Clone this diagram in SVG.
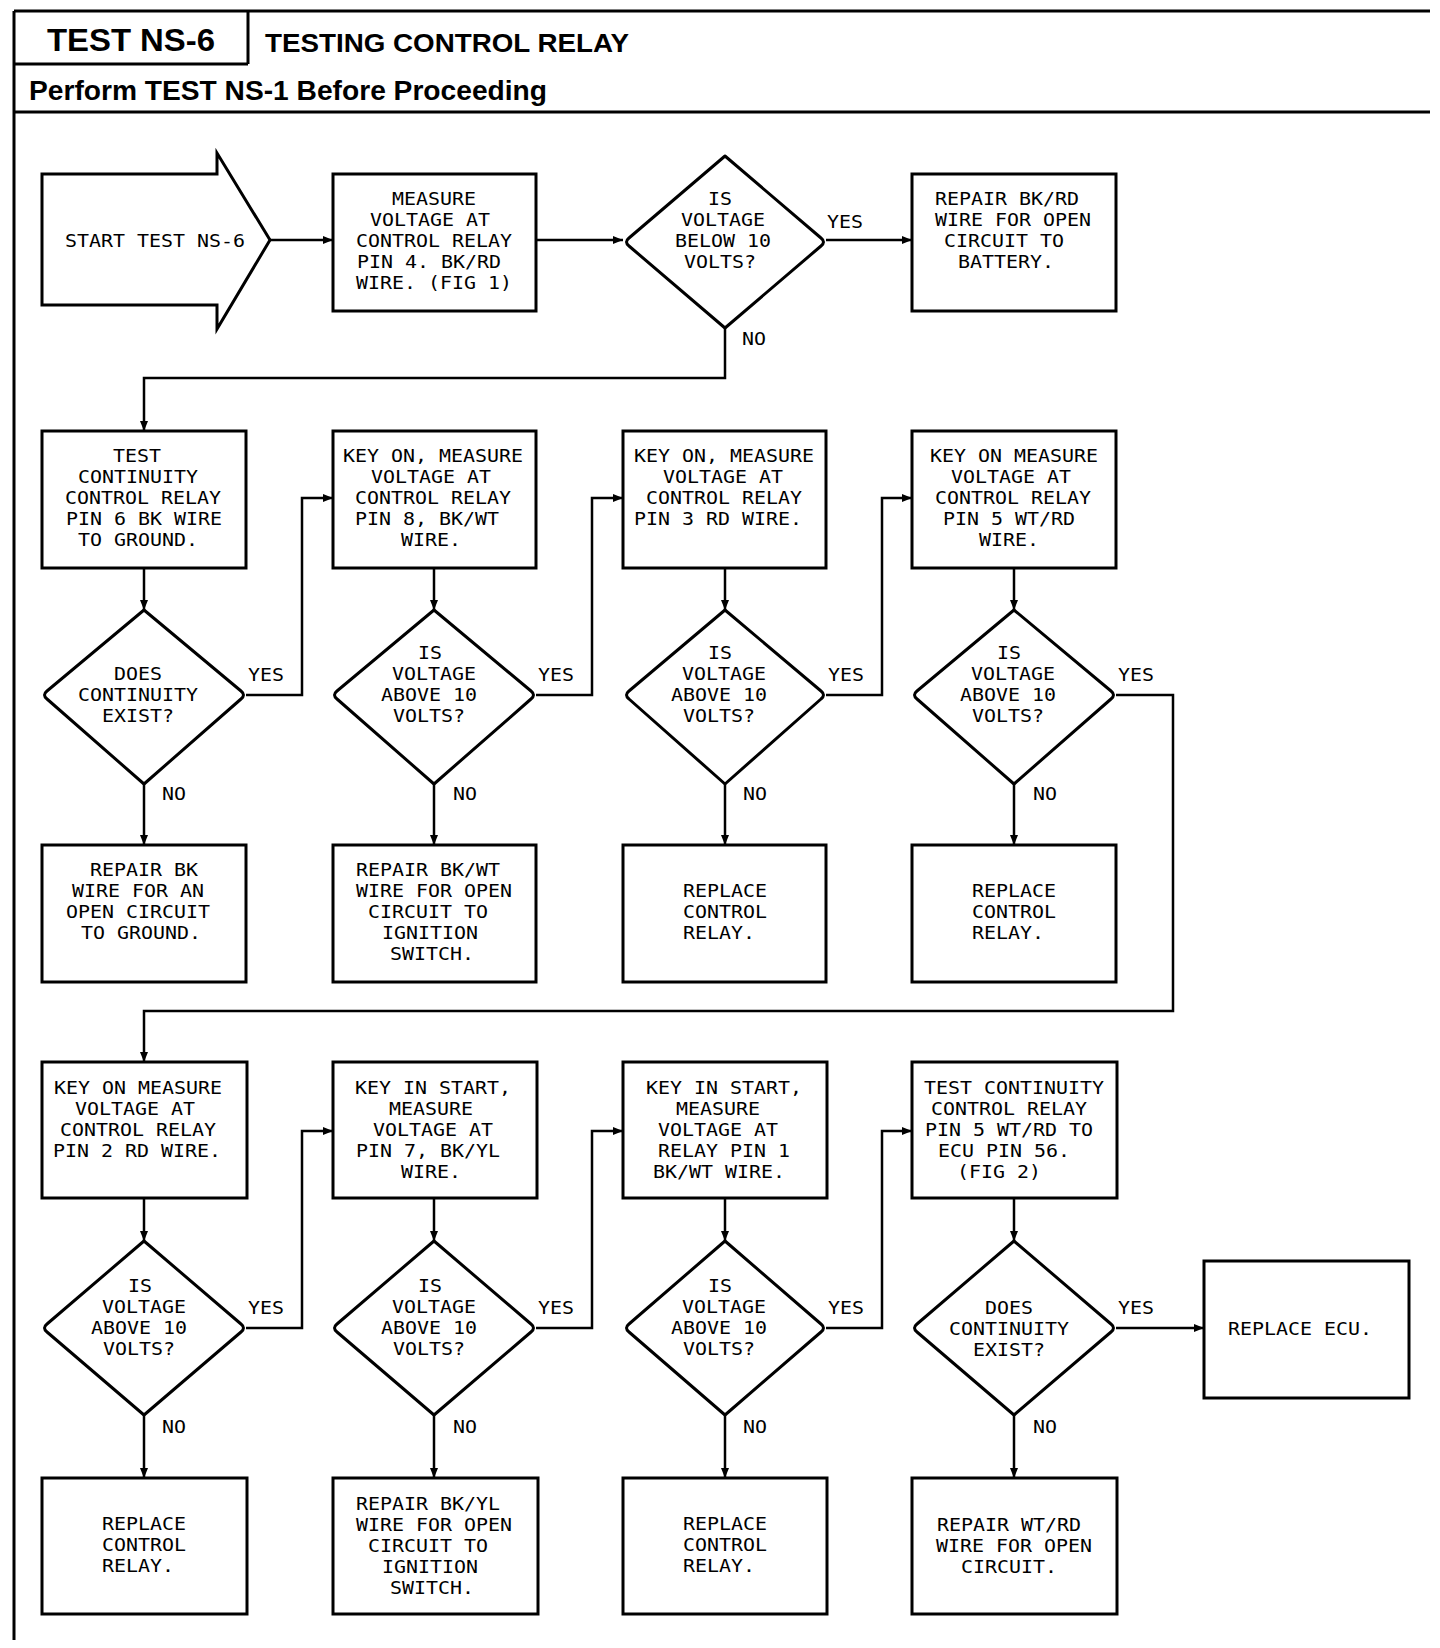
<svg xmlns="http://www.w3.org/2000/svg" width="1440" height="1648" viewBox="0 0 1440 1648">
<style>
.frame{fill:none;stroke:#000;stroke-width:3}
.box{fill:#fff;stroke:#000;stroke-width:3}
.dia{fill:#fff;stroke:#000;stroke-width:3;stroke-linejoin:round}
.conn{fill:none;stroke:#000;stroke-width:2.5}
.h{font-family:"Liberation Sans",Arial,sans-serif;font-weight:bold;fill:#000}
.t{font-family:"DejaVu Sans Mono","Liberation Mono",monospace;font-size:17.8px;fill:#000;text-anchor:middle}
.s{font-family:"DejaVu Sans Mono","Liberation Mono",monospace;font-size:17.8px;fill:#000;text-anchor:start}
</style>
<defs>
<marker id="ah" viewBox="0 0 10 8" refX="10" refY="4" markerWidth="10" markerHeight="8" markerUnits="userSpaceOnUse" orient="auto">
<path d="M0,0 L10,4 L0,8 z" fill="#000"/>
</marker>
</defs>
<rect width="1440" height="1648" fill="#fff"/>

<g id="header">
<path class="frame" d="M14,11 H1430 M14,11 V1640 M248,11 V64 M14,64 H248 M14,112 H1430"/>
<text class="h" x="47" y="51" font-size="32" textLength="168" lengthAdjust="spacingAndGlyphs">TEST NS-6</text>
<text class="h" x="265" y="52" font-size="26" textLength="364" lengthAdjust="spacingAndGlyphs">TESTING CONTROL RELAY</text>
<text class="h" x="29" y="100" font-size="27" textLength="518" lengthAdjust="spacingAndGlyphs">Perform TEST NS-1 Before Proceeding</text>
</g>

<g id="connectors">
<path class="conn" marker-end="url(#ah)" d="M270,240 H333"/>
<path class="conn" marker-end="url(#ah)" d="M536,240 H623"/>
<path class="conn" marker-end="url(#ah)" d="M826,240 H912"/>
<path class="conn" marker-end="url(#ah)" d="M725,328 V378 H144 V431"/>
<path class="conn" marker-end="url(#ah)" d="M144,568 V610"/>
<path class="conn" marker-end="url(#ah)" d="M434,568 V610"/>
<path class="conn" marker-end="url(#ah)" d="M725,568 V610"/>
<path class="conn" marker-end="url(#ah)" d="M1014,568 V610"/>
<path class="conn" marker-end="url(#ah)" d="M144,784 V845"/>
<path class="conn" marker-end="url(#ah)" d="M434,784 V845"/>
<path class="conn" marker-end="url(#ah)" d="M725,784 V845"/>
<path class="conn" marker-end="url(#ah)" d="M1014,784 V845"/>
<path class="conn" marker-end="url(#ah)" d="M246,695 H302 V498 H333"/>
<path class="conn" marker-end="url(#ah)" d="M536,695 H592 V498 H623"/>
<path class="conn" marker-end="url(#ah)" d="M826,695 H882 V498 H912"/>
<path class="conn" marker-end="url(#ah)" d="M1116,695 H1173 V1011 H144 V1062"/>
<path class="conn" marker-end="url(#ah)" d="M144,1198 V1241"/>
<path class="conn" marker-end="url(#ah)" d="M434,1198 V1241"/>
<path class="conn" marker-end="url(#ah)" d="M725,1198 V1241"/>
<path class="conn" marker-end="url(#ah)" d="M1014,1198 V1241"/>
<path class="conn" marker-end="url(#ah)" d="M144,1415 V1478"/>
<path class="conn" marker-end="url(#ah)" d="M434,1415 V1478"/>
<path class="conn" marker-end="url(#ah)" d="M725,1415 V1478"/>
<path class="conn" marker-end="url(#ah)" d="M1014,1415 V1478"/>
<path class="conn" marker-end="url(#ah)" d="M246,1328 H302 V1131 H333"/>
<path class="conn" marker-end="url(#ah)" d="M536,1328 H592 V1131 H623"/>
<path class="conn" marker-end="url(#ah)" d="M826,1328 H882 V1131 H912"/>
<path class="conn" marker-end="url(#ah)" d="M1116,1328 H1204"/>
<text class="s" x="827" y="227.5" textLength="36" lengthAdjust="spacingAndGlyphs">YES</text>
<text class="s" x="742" y="344.5" textLength="24" lengthAdjust="spacingAndGlyphs">NO</text>
<text class="s" x="248" y="680.5" textLength="36" lengthAdjust="spacingAndGlyphs">YES</text>
<text class="s" x="538" y="680.5" textLength="36" lengthAdjust="spacingAndGlyphs">YES</text>
<text class="s" x="828" y="680.5" textLength="36" lengthAdjust="spacingAndGlyphs">YES</text>
<text class="s" x="1118" y="680.5" textLength="36" lengthAdjust="spacingAndGlyphs">YES</text>
<text class="s" x="162" y="799.5" textLength="24" lengthAdjust="spacingAndGlyphs">NO</text>
<text class="s" x="453" y="799.5" textLength="24" lengthAdjust="spacingAndGlyphs">NO</text>
<text class="s" x="743" y="799.5" textLength="24" lengthAdjust="spacingAndGlyphs">NO</text>
<text class="s" x="1033" y="799.5" textLength="24" lengthAdjust="spacingAndGlyphs">NO</text>
<text class="s" x="248" y="1313.5" textLength="36" lengthAdjust="spacingAndGlyphs">YES</text>
<text class="s" x="538" y="1313.5" textLength="36" lengthAdjust="spacingAndGlyphs">YES</text>
<text class="s" x="828" y="1313.5" textLength="36" lengthAdjust="spacingAndGlyphs">YES</text>
<text class="s" x="1118" y="1313.5" textLength="36" lengthAdjust="spacingAndGlyphs">YES</text>
<text class="s" x="162" y="1432.5" textLength="24" lengthAdjust="spacingAndGlyphs">NO</text>
<text class="s" x="453" y="1432.5" textLength="24" lengthAdjust="spacingAndGlyphs">NO</text>
<text class="s" x="743" y="1432.5" textLength="24" lengthAdjust="spacingAndGlyphs">NO</text>
<text class="s" x="1033" y="1432.5" textLength="24" lengthAdjust="spacingAndGlyphs">NO</text>
</g>

<g id="start">
<path class="box" d="M42,174 H217 V153 L270,240 L217,329 V305 H42 Z"/>
<text class="t" x="155" y="246.5" textLength="180" lengthAdjust="spacingAndGlyphs">START TEST NS-6</text>
</g>

<g id="measure-pin4">
<rect class="box" x="333" y="174" width="203" height="137"/>
<text class="t"><tspan x="434" y="204.5" textLength="84" lengthAdjust="spacingAndGlyphs">MEASURE</tspan><tspan x="430" y="225.5" textLength="120" lengthAdjust="spacingAndGlyphs">VOLTAGE AT</tspan><tspan x="434" y="246.5" textLength="156" lengthAdjust="spacingAndGlyphs">CONTROL RELAY</tspan><tspan x="429" y="267.5" textLength="144" lengthAdjust="spacingAndGlyphs">PIN 4. BK/RD</tspan><tspan x="434" y="288.5" textLength="156" lengthAdjust="spacingAndGlyphs">WIRE. (FIG 1)</tspan></text>
</g>

<g id="dec-below10">
<path class="dia" d="M725,156 L821,238 Q826,242 821,246 L725,328 L629,246 Q624,242 629,238 Z"/>
<text class="t"><tspan x="720" y="204.5" textLength="24" lengthAdjust="spacingAndGlyphs">IS</tspan><tspan x="723" y="225.5" textLength="84" lengthAdjust="spacingAndGlyphs">VOLTAGE</tspan><tspan x="723" y="246.5" textLength="96" lengthAdjust="spacingAndGlyphs">BELOW 10</tspan><tspan x="720" y="267.5" textLength="72" lengthAdjust="spacingAndGlyphs">VOLTS?</tspan></text>
</g>

<g id="repair-bkrd">
<rect class="box" x="912" y="174" width="204" height="137"/>
<text class="t"><tspan x="1007" y="204.5" textLength="144" lengthAdjust="spacingAndGlyphs">REPAIR BK/RD</tspan><tspan x="1013" y="225.5" textLength="156" lengthAdjust="spacingAndGlyphs">WIRE FOR OPEN</tspan><tspan x="1004" y="246.5" textLength="120" lengthAdjust="spacingAndGlyphs">CIRCUIT TO</tspan><tspan x="1006" y="267.5" textLength="96" lengthAdjust="spacingAndGlyphs">BATTERY.</tspan></text>
</g>

<g id="test-pin6">
<rect class="box" x="42" y="431" width="204" height="137"/>
<text class="t"><tspan x="137" y="461.5" textLength="48" lengthAdjust="spacingAndGlyphs">TEST</tspan><tspan x="138" y="482.5" textLength="120" lengthAdjust="spacingAndGlyphs">CONTINUITY</tspan><tspan x="143" y="503.5" textLength="156" lengthAdjust="spacingAndGlyphs">CONTROL RELAY</tspan><tspan x="144" y="524.5" textLength="156" lengthAdjust="spacingAndGlyphs">PIN 6 BK WIRE</tspan><tspan x="138" y="545.5" textLength="120" lengthAdjust="spacingAndGlyphs">TO GROUND.</tspan></text>
</g>

<g id="measure-pin8">
<rect class="box" x="333" y="431" width="203" height="137"/>
<text class="t"><tspan x="433" y="461.5" textLength="180" lengthAdjust="spacingAndGlyphs">KEY ON, MEASURE</tspan><tspan x="431" y="482.5" textLength="120" lengthAdjust="spacingAndGlyphs">VOLTAGE AT</tspan><tspan x="433" y="503.5" textLength="156" lengthAdjust="spacingAndGlyphs">CONTROL RELAY</tspan><tspan x="427" y="524.5" textLength="144" lengthAdjust="spacingAndGlyphs">PIN 8, BK/WT</tspan><tspan x="431" y="545.5" textLength="60" lengthAdjust="spacingAndGlyphs">WIRE.</tspan></text>
</g>

<g id="measure-pin3">
<rect class="box" x="623" y="431" width="203" height="137"/>
<text class="t"><tspan x="724" y="461.5" textLength="180" lengthAdjust="spacingAndGlyphs">KEY ON, MEASURE</tspan><tspan x="723" y="482.5" textLength="120" lengthAdjust="spacingAndGlyphs">VOLTAGE AT</tspan><tspan x="724" y="503.5" textLength="156" lengthAdjust="spacingAndGlyphs">CONTROL RELAY</tspan><tspan x="718" y="524.5" textLength="168" lengthAdjust="spacingAndGlyphs">PIN 3 RD WIRE.</tspan></text>
</g>

<g id="measure-pin5">
<rect class="box" x="912" y="431" width="204" height="137"/>
<text class="t"><tspan x="1014" y="461.5" textLength="168" lengthAdjust="spacingAndGlyphs">KEY ON MEASURE</tspan><tspan x="1011" y="482.5" textLength="120" lengthAdjust="spacingAndGlyphs">VOLTAGE AT</tspan><tspan x="1013" y="503.5" textLength="156" lengthAdjust="spacingAndGlyphs">CONTROL RELAY</tspan><tspan x="1009" y="524.5" textLength="132" lengthAdjust="spacingAndGlyphs">PIN 5 WT/RD</tspan><tspan x="1009" y="545.5" textLength="60" lengthAdjust="spacingAndGlyphs">WIRE.</tspan></text>
</g>

<g id="dec-cont1">
<path class="dia" d="M144,610 L241,691 Q246,695 241,699 L144,784 L47,699 Q42,695 47,691 Z"/>
<text class="t"><tspan x="138" y="679.5" textLength="48" lengthAdjust="spacingAndGlyphs">DOES</tspan><tspan x="138" y="700.5" textLength="120" lengthAdjust="spacingAndGlyphs">CONTINUITY</tspan><tspan x="138" y="721.5" textLength="72" lengthAdjust="spacingAndGlyphs">EXIST?</tspan></text>
</g>

<g id="dec-pin8">
<path class="dia" d="M434,610 L531,691 Q536,695 531,699 L434,784 L337,699 Q332,695 337,691 Z"/>
<text class="t"><tspan x="430" y="659" textLength="24" lengthAdjust="spacingAndGlyphs">IS</tspan><tspan x="434" y="680" textLength="84" lengthAdjust="spacingAndGlyphs">VOLTAGE</tspan><tspan x="429" y="701" textLength="96" lengthAdjust="spacingAndGlyphs">ABOVE 10</tspan><tspan x="429" y="722" textLength="72" lengthAdjust="spacingAndGlyphs">VOLTS?</tspan></text>
</g>

<g id="dec-pin3">
<path class="dia" d="M725,610 L821,691 Q826,695 821,699 L725,784 L629,699 Q624,695 629,691 Z"/>
<text class="t"><tspan x="720" y="659" textLength="24" lengthAdjust="spacingAndGlyphs">IS</tspan><tspan x="724" y="680" textLength="84" lengthAdjust="spacingAndGlyphs">VOLTAGE</tspan><tspan x="719" y="701" textLength="96" lengthAdjust="spacingAndGlyphs">ABOVE 10</tspan><tspan x="719" y="722" textLength="72" lengthAdjust="spacingAndGlyphs">VOLTS?</tspan></text>
</g>

<g id="dec-pin5">
<path class="dia" d="M1014,610 L1111,691 Q1116,695 1111,699 L1014,784 L917,699 Q912,695 917,691 Z"/>
<text class="t"><tspan x="1009" y="659" textLength="24" lengthAdjust="spacingAndGlyphs">IS</tspan><tspan x="1013" y="680" textLength="84" lengthAdjust="spacingAndGlyphs">VOLTAGE</tspan><tspan x="1008" y="701" textLength="96" lengthAdjust="spacingAndGlyphs">ABOVE 10</tspan><tspan x="1008" y="722" textLength="72" lengthAdjust="spacingAndGlyphs">VOLTS?</tspan></text>
</g>

<g id="repair-bk">
<rect class="box" x="42" y="845" width="204" height="137"/>
<text class="t"><tspan x="144" y="876" textLength="108" lengthAdjust="spacingAndGlyphs">REPAIR BK</tspan><tspan x="138" y="897" textLength="132" lengthAdjust="spacingAndGlyphs">WIRE FOR AN</tspan><tspan x="138" y="918" textLength="144" lengthAdjust="spacingAndGlyphs">OPEN CIRCUIT</tspan><tspan x="141" y="939" textLength="120" lengthAdjust="spacingAndGlyphs">TO GROUND.</tspan></text>
</g>

<g id="repair-bkwt">
<rect class="box" x="333" y="845" width="203" height="137"/>
<text class="t"><tspan x="428" y="875.5" textLength="144" lengthAdjust="spacingAndGlyphs">REPAIR BK/WT</tspan><tspan x="434" y="896.5" textLength="156" lengthAdjust="spacingAndGlyphs">WIRE FOR OPEN</tspan><tspan x="428" y="917.5" textLength="120" lengthAdjust="spacingAndGlyphs">CIRCUIT TO</tspan><tspan x="430" y="938.5" textLength="96" lengthAdjust="spacingAndGlyphs">IGNITION</tspan><tspan x="432" y="959.5" textLength="84" lengthAdjust="spacingAndGlyphs">SWITCH.</tspan></text>
</g>

<g id="replace-relay-1">
<rect class="box" x="623" y="845" width="203" height="137"/>
<text class="s"><tspan x="683" y="896.5" textLength="84" lengthAdjust="spacingAndGlyphs">REPLACE</tspan><tspan x="683" y="917.5" textLength="84" lengthAdjust="spacingAndGlyphs">CONTROL</tspan><tspan x="683" y="938.5" textLength="72" lengthAdjust="spacingAndGlyphs">RELAY.</tspan></text>
</g>

<g id="replace-relay-2">
<rect class="box" x="912" y="845" width="204" height="137"/>
<text class="s"><tspan x="972" y="896.5" textLength="84" lengthAdjust="spacingAndGlyphs">REPLACE</tspan><tspan x="972" y="917.5" textLength="84" lengthAdjust="spacingAndGlyphs">CONTROL</tspan><tspan x="972" y="938.5" textLength="72" lengthAdjust="spacingAndGlyphs">RELAY.</tspan></text>
</g>

<g id="measure-pin2">
<rect class="box" x="42" y="1062" width="205" height="136"/>
<text class="t"><tspan x="138" y="1094" textLength="168" lengthAdjust="spacingAndGlyphs">KEY ON MEASURE</tspan><tspan x="135" y="1115" textLength="120" lengthAdjust="spacingAndGlyphs">VOLTAGE AT</tspan><tspan x="138" y="1136" textLength="156" lengthAdjust="spacingAndGlyphs">CONTROL RELAY</tspan><tspan x="137" y="1157" textLength="168" lengthAdjust="spacingAndGlyphs">PIN 2 RD WIRE.</tspan></text>
</g>

<g id="measure-pin7">
<rect class="box" x="333" y="1062" width="204" height="136"/>
<text class="t"><tspan x="433" y="1093.5" textLength="156" lengthAdjust="spacingAndGlyphs">KEY IN START,</tspan><tspan x="431" y="1114.5" textLength="84" lengthAdjust="spacingAndGlyphs">MEASURE</tspan><tspan x="433" y="1135.5" textLength="120" lengthAdjust="spacingAndGlyphs">VOLTAGE AT</tspan><tspan x="428" y="1156.5" textLength="144" lengthAdjust="spacingAndGlyphs">PIN 7, BK/YL</tspan><tspan x="431" y="1177.5" textLength="60" lengthAdjust="spacingAndGlyphs">WIRE.</tspan></text>
</g>

<g id="measure-pin1">
<rect class="box" x="623" y="1062" width="204" height="136"/>
<text class="t"><tspan x="724" y="1093.5" textLength="156" lengthAdjust="spacingAndGlyphs">KEY IN START,</tspan><tspan x="718" y="1114.5" textLength="84" lengthAdjust="spacingAndGlyphs">MEASURE</tspan><tspan x="718" y="1135.5" textLength="120" lengthAdjust="spacingAndGlyphs">VOLTAGE AT</tspan><tspan x="724" y="1156.5" textLength="132" lengthAdjust="spacingAndGlyphs">RELAY PIN 1</tspan><tspan x="719" y="1177.5" textLength="132" lengthAdjust="spacingAndGlyphs">BK/WT WIRE.</tspan></text>
</g>

<g id="test-pin5-ecu">
<rect class="box" x="912" y="1062" width="205" height="136"/>
<text class="t"><tspan x="1014" y="1093.5" textLength="180" lengthAdjust="spacingAndGlyphs">TEST CONTINUITY</tspan><tspan x="1009" y="1114.5" textLength="156" lengthAdjust="spacingAndGlyphs">CONTROL RELAY</tspan><tspan x="1009" y="1135.5" textLength="168" lengthAdjust="spacingAndGlyphs">PIN 5 WT/RD TO</tspan><tspan x="1004" y="1156.5" textLength="132" lengthAdjust="spacingAndGlyphs">ECU PIN 56.</tspan><tspan x="999" y="1177.5" textLength="84" lengthAdjust="spacingAndGlyphs">(FIG 2)</tspan></text>
</g>

<g id="dec-pin2">
<path class="dia" d="M144,1241 L241,1324 Q246,1328 241,1332 L144,1415 L47,1332 Q42,1328 47,1324 Z"/>
<text class="t"><tspan x="140" y="1292" textLength="24" lengthAdjust="spacingAndGlyphs">IS</tspan><tspan x="144" y="1313" textLength="84" lengthAdjust="spacingAndGlyphs">VOLTAGE</tspan><tspan x="139" y="1334" textLength="96" lengthAdjust="spacingAndGlyphs">ABOVE 10</tspan><tspan x="139" y="1355" textLength="72" lengthAdjust="spacingAndGlyphs">VOLTS?</tspan></text>
</g>

<g id="dec-pin7">
<path class="dia" d="M434,1241 L531,1324 Q536,1328 531,1332 L434,1415 L337,1332 Q332,1328 337,1324 Z"/>
<text class="t"><tspan x="430" y="1292" textLength="24" lengthAdjust="spacingAndGlyphs">IS</tspan><tspan x="434" y="1313" textLength="84" lengthAdjust="spacingAndGlyphs">VOLTAGE</tspan><tspan x="429" y="1334" textLength="96" lengthAdjust="spacingAndGlyphs">ABOVE 10</tspan><tspan x="429" y="1355" textLength="72" lengthAdjust="spacingAndGlyphs">VOLTS?</tspan></text>
</g>

<g id="dec-pin1">
<path class="dia" d="M725,1241 L821,1324 Q826,1328 821,1332 L725,1415 L629,1332 Q624,1328 629,1324 Z"/>
<text class="t"><tspan x="720" y="1292" textLength="24" lengthAdjust="spacingAndGlyphs">IS</tspan><tspan x="724" y="1313" textLength="84" lengthAdjust="spacingAndGlyphs">VOLTAGE</tspan><tspan x="719" y="1334" textLength="96" lengthAdjust="spacingAndGlyphs">ABOVE 10</tspan><tspan x="719" y="1355" textLength="72" lengthAdjust="spacingAndGlyphs">VOLTS?</tspan></text>
</g>

<g id="dec-cont2">
<path class="dia" d="M1014,1241 L1111,1324 Q1116,1328 1111,1332 L1014,1415 L917,1332 Q912,1328 917,1324 Z"/>
<text class="t"><tspan x="1009" y="1313.5" textLength="48" lengthAdjust="spacingAndGlyphs">DOES</tspan><tspan x="1009" y="1334.5" textLength="120" lengthAdjust="spacingAndGlyphs">CONTINUITY</tspan><tspan x="1009" y="1355.5" textLength="72" lengthAdjust="spacingAndGlyphs">EXIST?</tspan></text>
</g>

<g id="replace-ecu">
<rect class="box" x="1204" y="1261" width="205" height="137"/>
<text class="t" x="1300" y="1334.5" textLength="144" lengthAdjust="spacingAndGlyphs">REPLACE ECU.</text>
</g>

<g id="replace-relay-3">
<rect class="box" x="42" y="1478" width="205" height="136"/>
<text class="s"><tspan x="102" y="1529.5" textLength="84" lengthAdjust="spacingAndGlyphs">REPLACE</tspan><tspan x="102" y="1550.5" textLength="84" lengthAdjust="spacingAndGlyphs">CONTROL</tspan><tspan x="102" y="1571.5" textLength="72" lengthAdjust="spacingAndGlyphs">RELAY.</tspan></text>
</g>

<g id="repair-bkyl">
<rect class="box" x="333" y="1478" width="205" height="136"/>
<text class="t"><tspan x="428" y="1509.5" textLength="144" lengthAdjust="spacingAndGlyphs">REPAIR BK/YL</tspan><tspan x="434" y="1530.5" textLength="156" lengthAdjust="spacingAndGlyphs">WIRE FOR OPEN</tspan><tspan x="428" y="1551.5" textLength="120" lengthAdjust="spacingAndGlyphs">CIRCUIT TO</tspan><tspan x="430" y="1572.5" textLength="96" lengthAdjust="spacingAndGlyphs">IGNITION</tspan><tspan x="432" y="1593.5" textLength="84" lengthAdjust="spacingAndGlyphs">SWITCH.</tspan></text>
</g>

<g id="replace-relay-4">
<rect class="box" x="623" y="1478" width="204" height="136"/>
<text class="s"><tspan x="683" y="1529.5" textLength="84" lengthAdjust="spacingAndGlyphs">REPLACE</tspan><tspan x="683" y="1550.5" textLength="84" lengthAdjust="spacingAndGlyphs">CONTROL</tspan><tspan x="683" y="1571.5" textLength="72" lengthAdjust="spacingAndGlyphs">RELAY.</tspan></text>
</g>

<g id="repair-wtrd">
<rect class="box" x="912" y="1478" width="205" height="136"/>
<text class="t"><tspan x="1009" y="1530.5" textLength="144" lengthAdjust="spacingAndGlyphs">REPAIR WT/RD</tspan><tspan x="1014" y="1551.5" textLength="156" lengthAdjust="spacingAndGlyphs">WIRE FOR OPEN</tspan><tspan x="1009" y="1572.5" textLength="96" lengthAdjust="spacingAndGlyphs">CIRCUIT.</tspan></text>
</g>
</svg>
